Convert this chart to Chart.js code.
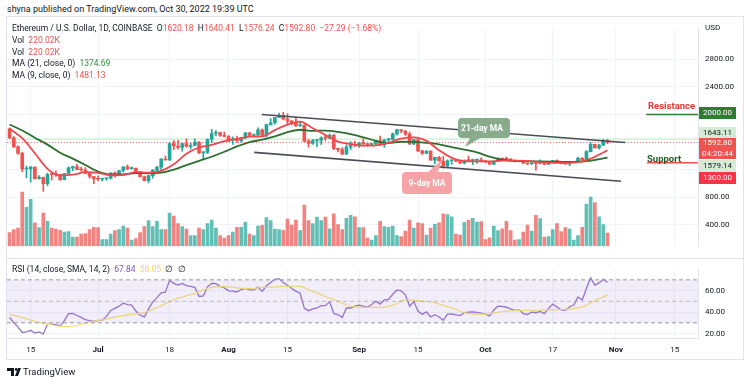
<!DOCTYPE html>
<html>
<head>
<meta charset="utf-8">
<script src="https://cdn.jsdelivr.net/npm/chart.js@4.4.0/dist/chart.umd.min.js"></script>
<style>
  body { margin: 0; width: 750px; height: 385px; background: #fff; position: relative; overflow: hidden;
         font-family: Roboto, "Liberation Sans", sans-serif; color: #131722; }
  .abs { position: absolute; white-space: nowrap; }
  .lg { left: 12px; font-size: 8.5px; line-height: 11.6px; }
  .r { color: #ef5350; }
  .g { color: #388e3c; }
  .pl { position: absolute; left: 699px; width: 37px; text-align: center; font-size: 8px; line-height: 11px; }
</style>
</head>
<body>
<div class="abs" style="left:7px;top:4px;font-size:9px">shyna published on TradingView.com, Oct 30, 2022 19:39 UTC</div>
<div class="abs" style="left:6px;top:16px;width:736px;height:342px;border:1px solid #e0e3eb"></div>
<canvas id="main" width="736" height="241" style="position:absolute;left:7px;top:17px"></canvas>
<div class="abs" style="left:7px;top:258px;width:736px;height:1px;background:#e0e3eb"></div>
<canvas id="rsi" width="736" height="102" style="position:absolute;left:7px;top:258px"></canvas>

<div class="abs lg" style="top:23px">Ethereum / U.S. Dollar, 1D, COINBASE&nbsp; O<span class="r">1620.18</span>&nbsp; H<span class="r">1640.41</span>&nbsp; L<span class="r">1576.24</span>&nbsp; C<span class="r">1592.80</span>&nbsp; <span class="r">−27.29 (−1.68%)</span></div>
<div class="abs lg" style="top:35px">Vol&nbsp; <span class="r">220.02K</span></div>
<div class="abs lg" style="top:47px">Vol&nbsp; <span class="r">220.02K</span></div>
<div class="abs lg" style="top:58px">MA (21, close, 0)&nbsp; <span class="g">1374.69</span></div>
<div class="abs lg" style="top:70px">MA (9, close, 0)&nbsp; <span class="r">1481.13</span></div>
<div class="abs lg" style="top:264px">RSI (14, close, SMA, 14, 2)&nbsp; <span style="color:#7e57c2">67.84</span>&nbsp; <span style="color:#f2d64b">56.05</span>&nbsp; ∅&nbsp; ∅</div>

<div class="abs" style="left:705px;top:23px;font-size:8px">USD</div>
<div class="abs" style="left:648px;top:100px;font-size:9.5px;font-weight:bold;color:#e53935">Resistance</div>
<div class="abs" style="left:647px;top:153px;font-size:9.5px;font-weight:bold;color:#1b5e20">Support</div>

<div class="pl" style="top:107px;height:12px;line-height:12px;background:#2e7d32;color:#fff">2000.00</div>
<div class="pl" style="top:127px;height:11px;background:#d4ecd5">1643.11</div>
<div class="pl" style="top:138px;height:21px;line-height:10.5px;background:#ef5350;color:#fff">1592.80<br>04:20:44</div>
<div class="pl" style="top:160px;height:12px;line-height:12px;background:#d4ecd5">1579.14</div>
<div class="pl" style="top:172px;height:12px;line-height:12px;background:#f23645;color:#fff">1300.00</div>

<svg class="abs" style="left:0;top:0" width="750" height="385">
  <path d="M458,118 h48 a4,4 0 0 1 4,4 v12 a4,4 0 0 1 -4,4 h-26 l-15,9 l5,-9 h-8 a4,4 0 0 1 -4,-4 v-12 a4,4 0 0 1 4,-4z" fill="#88ab8c"/>
  <text x="482" y="131" text-anchor="middle" font-size="8.5" font-weight="bold" fill="#fff" font-family="Roboto">21-day MA</text>
  <path d="M406,172 h22 l14,-12 l-4,12 h10 a4,4 0 0 1 4,4 v14 a4,4 0 0 1 -4,4 h-42 a4,4 0 0 1 -4,-4 v-14 a4,4 0 0 1 4,-4z" fill="#f5a3a6"/>
  <text x="427" y="186" text-anchor="middle" font-size="8.5" font-weight="bold" fill="#fff" font-family="Roboto">9-day MA</text>
  <g transform="translate(7,367)">
    <path d="M0,1 h7 v8 h-3 v-5 h-4z M8,9 l3,-8 h3 l-3,8z" fill="#131722"/>
    <circle cx="9.2" cy="2.5" r="1.4" fill="#131722"/>
  </g>
</svg>
<div class="abs" style="left:23px;top:366px;font-size:9.5px">TradingView</div>

<script>
// ETH/USD daily, Jun 10 - Oct 30 2022 (day 0 = Jun 10)
const opens = [1790,1662,1530,1435,1207,1208,1236,1067,1087,995,1127,1126,1125,1051,1142,1225,1243,1198,1193,1144,1098,
  1068,1059,1066,1074,1150,1134,1186,1238,1213,1218,1168,1097,1038,1112,1191,1233,1353,1338,1577,1542,1520,1577,1535,1549,1597,1442,1449,1636,1724,1738,1697,
  1680,1632,1634,1619,1661,1735,1694,1699,1776,1700,1852,1880,1957,1984,1935,1904,1876,1835,1847,1613,1578,1621,1626,1662,1657,1696,1507,1490,1424,1525,1554,
  1553,1585,1577,1556,1577,1617,1560,1630,1635,1719,1776,1760,1714,1572,1635,1472,1433,1469,1336,1378,1324,1253,1328,1329,1316,1294,1334,1330,1337,1337,
  1327,1311,1276,1324,1362,1352,1351,1331,1316,1322,1292,1280,1295,1287,1297,1275,1306,1331,1309,1284,1283,1299,1314,1363,1345,1461,1565,1514,1555,1620.18];
const highs = [1805,1680,1545,1450,1250,1245,1240,1112,1090,1150,1160,1180,1130,1145,1240,1250,1280,1235,1230,1150,1100,
  1110,1075,1080,1155,1165,1190,1240,1270,1240,1225,1170,1105,1115,1200,1245,1360,1395,1590,1620,1625,1585,1645,1585,1645,1605,1460,1645,1785,1765,1745,1745,
  1695,1675,1685,1665,1740,1740,1720,1805,1790,1860,1940,1960,2020,2030,2010,1915,1960,1885,1850,1640,1640,1630,1675,1705,1720,1710,1510,1520,1560,1605,1615,
  1595,1645,1580,1580,1625,1685,1640,1655,1730,1785,1780,1765,1745,1640,1650,1480,1475,1470,1380,1390,1390,1340,1340,1345,1325,1340,1395,1350,1345,1370,
  1330,1320,1325,1370,1365,1380,1360,1340,1325,1330,1295,1300,1300,1340,1300,1310,1335,1340,1315,1310,1305,1320,1380,1375,1475,1590,1570,1565,1640,1640.41];
const lows = [1650,1520,1420,1170,1080,1015,1060,1060,880,965,1050,1100,1040,1050,1130,1185,1195,1175,1140,1075,995,
  1035,1030,1040,1060,1090,1120,1160,1195,1205,1150,1090,1035,1005,1075,1175,1190,1335,1330,1490,1495,1465,1525,1500,1545,1430,1356,1430,1590,1690,1680,1675,
  1605,1565,1595,1595,1650,1685,1680,1695,1690,1670,1845,1860,1955,1920,1860,1850,1825,1825,1600,1525,1565,1530,1565,1620,1650,1490,1455,1420,1420,1490,1530,
  1520,1555,1540,1545,1555,1550,1520,1605,1630,1700,1735,1695,1560,1560,1460,1420,1430,1335,1280,1320,1220,1245,1275,1315,1285,1280,1310,1270,1290,1310,
  1305,1270,1270,1320,1330,1345,1320,1310,1310,1290,1270,1275,1190,1280,1270,1275,1300,1300,1280,1275,1255,1295,1305,1335,1340,1455,1510,1495,1550,1576.24];
const closes = [1662,1530,1435,1207,1208,1236,1067,1087,995,1127,1126,1125,1051,1142,1225,1243,1198,1193,1144,1098,1068,
  1059,1066,1074,1150,1134,1186,1238,1213,1218,1168,1097,1038,1112,1191,1233,1353,1338,1577,1542,1520,1577,1535,1549,1597,1442,1449,1636,1724,1738,1697,1680,
  1632,1634,1619,1661,1735,1694,1699,1776,1700,1852,1880,1957,1984,1935,1904,1876,1835,1847,1613,1578,1621,1626,1662,1657,1696,1507,1490,1424,1525,1554,1553,
  1585,1577,1556,1577,1617,1560,1630,1635,1719,1776,1760,1714,1572,1635,1472,1433,1469,1336,1378,1324,1253,1328,1329,1316,1294,1334,1330,1337,1337,1327,
  1311,1276,1324,1362,1352,1351,1331,1316,1322,1292,1280,1295,1287,1297,1275,1306,1331,1309,1284,1283,1299,1314,1363,1345,1461,1565,1514,1555,1620,1592.8];
// volume in thousands
const volumes = [225,275,300,900,645,780,390,310,550,415,300,285,265,235,245,150,150,200,210,275,
  315,310,110,110,200,260,275,335,300,100,125,225,325,425,325,415,275,275,550,500,
  375,325,285,175,175,300,275,375,435,300,175,135,175,235,315,315,400,200,175,335,
  345,475,425,285,275,265,450,350,435,260,685,425,375,485,425,485,290,540,360,275,
  465,515,490,310,310,135,100,175,415,325,315,335,175,160,250,435,300,390,375,185,
  300,365,390,540,525,490,200,185,395,435,465,400,410,110,140,335,260,290,415,260,
  100,110,235,350,250,515,460,150,160,275,375,245,310,285,100,175,315,700,815,725,490,360,220.02];

const maDays = [0,3,6,9,12,15,18,21,24,27,30,33,36,39,42,45,48,51,54,57,60,63,66,69,72,75,78,81,84,87,90,93,96,99,102,105,108,111,114,117,120,123,126,129,132,135,138,141,142];
const ma9 = [1793,1655,1436,1210,1114,1125,1161,1152,1117,1119,1161,1156,1180,1276,1430,1520,1559,1612,1645,1677,1683,1773,1854,1897,1799,1702,1606,1571,1546,1552,1588,1648,1667,1617,1481,1369,1321,1318,1318,1328,1328,1326,1308,1298,1296,1307,1358,1448,1481.13];
const ma21 = [1854,1768,1663,1562,1444,1358,1266,1170,1128,1130,1149,1146,1154,1198,1265,1327,1386,1458,1536,1599,1633,1683,1742,1778,1763,1766,1747,1715,1669,1618,1583,1604,1603,1588,1566,1527,1489,1450,1386,1344,1326,1319,1318,1316,1310,1313,1329,1362,1374.69];

const rsi = [35,30,26,21,21.5,23,20.5,21.5,19.5,28.8, 28.5,28.5,27,32,38.5,38.8,36.8,35,33,32,
  31.5,32,32.5,36,41.5,43.5,45.5,48.3,47,46.5, 41,37,35.5,43,49.5,53.5,58,58.5,69.5,66.8,
  65.2,66.7,64.6,64,63,54.5,55,63.5,66.7,66.5, 64,62.5,59.8,59.5,58.7,61,62,60.6,60.6,63.2,
  59.3,64.5,67.5,70.5,71.2,67.5,65,62,59.5,57.5, 43.4,41.3,43,43.8,46,46,49.5,38.6,37.6,35,
  43.9,43.8,45.5,46.5,45.5,44.7,47,50,47.4,51.3, 51.9,56.6,60.6,59.8,56,45.5,50,40.7,38.1,40.2,
  35.4,37.6,35.4,32.3,38.1,38.2,37.5,36.8,39.4,40, 40.2,39.8,39,38,36.3,42,45.5,45.3,44.5,43,
  41.6,42.1,38.6,37.8,40,39.4,40.7,38.6,43.4,47.4, 44.7,42.1,41.6,45,46.6,54,51.3,61.9,71.9,65.1,
  67.2,70.6,67.84];
const rsiSmaDays = [0,2,5,7,10,12,14,16,18,20,22,25,27,29,32,34,36,39,41,44,46,48,51,53,56,58,60,63,65,69,71,73,75,78,80,82,85,88,90,92,93,95,97,99,101,103,106,108,110,113,115,118,120,123,125,127,130,132,134,136,137,139,141,142];
const rsiSma = [37.8,36,32.6,30.2,28,26.7,26.3,27.6,29.8,31.5,32.8,35.2,36.8,38,39.5,42.5,46,51.5,54,57.5,60.6,63,63.8,63,61.9,61.9,63,63.3,64,64,61,57.8,54.5,50.2,46.6,44.8,44.4,44.4,45.3,48,50.5,51.3,50.5,50,48.7,46.3,42.5,39.5,38.2,38,39.2,40.8,41.3,41.6,41.3,42,42.1,42.6,43.3,44.8,46.5,50.8,54,56.05];

// drawings (day index, price)
const upperChannelX = [59.9, 146.2], upperChannelY = [2000, 1593];
const lowerChannelX = [58.1, 145.2], lowerChannelY = [1449, 1030];
const resistanceX = [151.2, 163.5], resistanceY = [2000, 2000];
const supportX = [151.4, 163.5], supportY = [1300, 1300];
const lastPrice = 1592.8, dayHigh = 1643.11;

const dateTicks = [5,21,38,52,66,83,97,113,129,144,158];
const dateLabels = ['15','Jul','18','Aug','15','Sep','15','Oct','17','Nov','15'];
const priceTicks = [400,800,1200,1600,2000,2400,2800];
const shownPrices = [400,800,2400,2800];
const rsiTicks = [20,40,60];
const rsiLevels = [70,50,30];

const xMin = -0.62, xMax = 163.5;
const UP = '#26a69a', DOWN = '#ef5350';
const GRID = '#f0f3fa';

Chart.defaults.font.family = 'Roboto';
Chart.defaults.color = '#131722';

const xy = (xs, ys) => xs.map((x, i) => ({x, y: ys[i]}));
const candleColors = closes.map((c, i) => c >= opens[i] ? UP : DOWN);
const volColors = closes.map((c, i) => c >= opens[i] ? 'rgba(38,166,154,0.72)' : 'rgba(239,83,80,0.72)');
const line = (data, color, width, extra) => Object.assign({
  type: 'line', data, borderColor: color, borderWidth: width, pointRadius: 0, fill: false, order: 0
}, extra || {});

new Chart(document.getElementById('main'), {
  type: 'bar',
  data: {
    datasets: [
      line(xy(maDays, ma9), '#f0474f', 1.8, {cubicInterpolationMode: 'monotone'}),
      line(xy(maDays, ma21), '#2e6f2f', 1.8, {cubicInterpolationMode: 'monotone'}),
      line(xy(upperChannelX, upperChannelY), '#4a4d57', 1.6),
      line(xy(lowerChannelX, lowerChannelY), '#4a4d57', 1.6),
      line(xy(resistanceX, resistanceY), '#2e7d32', 1.5),
      line(xy(supportX, supportY), '#ef5350', 1.5),
      line(xy([xMin, xMax], [dayHigh, dayHigh]), '#c3e3c4', 1, {order: 5}),
      line(xy([xMin, xMax], [lastPrice, lastPrice]), 'rgba(239,110,80,0.85)', 1, {borderDash: [1, 2], order: 5}),
      {
        data: closes.map((c, i) => ({x: i, y: [opens[i], c]})),
        backgroundColor: candleColors, barThickness: 3, minBarLength: 1, grouped: false, order: 1
      },
      {
        data: closes.map((c, i) => ({x: i, y: [lows[i], highs[i]]})),
        backgroundColor: candleColors, barThickness: 1, grouped: false, order: 2
      },
      {
        data: xy(closes.map((c, i) => i), volumes), yAxisID: 'yv',
        backgroundColor: volColors, barThickness: 3, grouped: false, order: 10
      }
    ]
  },
  options: {
    responsive: false, animation: false, devicePixelRatio: 1,
    layout: {padding: 0},
    plugins: {legend: {display: false}, tooltip: {enabled: false}},
    scales: {
      x: {
        type: 'linear', min: xMin, max: xMax, offset: false,
        afterBuildTicks: s => { s.ticks = dateTicks.map(v => ({value: v})); },
        ticks: {display: false}, grid: {color: GRID, drawTicks: false, offset: false}, border: {display: false},
        afterFit: s => { s.height = 0; }
      },
      y: {
        position: 'right', min: 85.2, max: 3245.9,
        afterBuildTicks: s => { s.ticks = priceTicks.map(v => ({value: v})); },
        ticks: {callback: v => shownPrices.includes(v) ? v.toFixed(2) : '', font: {size: 8}, padding: 7},
        grid: {color: GRID, drawTicks: false}, border: {color: '#e0e3eb'},
        afterFit: s => { s.width = 45; }
      },
      yv: {display: false, min: 0, max: 3615}
    }
  }
});

new Chart(document.getElementById('rsi'), {
  type: 'line',
  data: {
    datasets: [
      line(xy([xMin, xMax], [rsiLevels[0], rsiLevels[0]]), '#9598a1', 1, {borderDash: [4, 3]}),
      line(xy([xMin, xMax], [rsiLevels[2], rsiLevels[2]]), '#9598a1', 1,
        {borderDash: [4, 3], fill: '-1', backgroundColor: 'rgba(126,87,194,0.1)'}),
      line(xy([xMin, xMax], [rsiLevels[1], rsiLevels[1]]), 'rgba(149,152,161,0.6)', 1, {borderDash: [4, 3]}),
      line(xy(rsiSmaDays, rsiSma), '#f7e27a', 1.3, {cubicInterpolationMode: 'monotone'}),
      line(xy(closes.map((c, i) => i), rsi), '#9575cd', 1.3)
    ]
  },
  options: {
    responsive: false, animation: false, devicePixelRatio: 1,
    layout: {padding: 0},
    plugins: {legend: {display: false}, tooltip: {enabled: false}},
    scales: {
      x: {
        type: 'linear', min: xMin, max: xMax, offset: false,
        afterBuildTicks: s => { s.ticks = dateTicks.map(v => ({value: v})); },
        ticks: {
          callback: (v, i) => dateLabels[i], padding: 7, maxRotation: 0, autoSkip: false,
          font: ctx => ({size: 8, weight: /[A-Z]/.test(dateLabels[ctx.index] || '') ? 'bold' : 'normal'})
        },
        grid: {color: GRID, drawTicks: false}, border: {color: '#e0e3eb'},
        afterFit: s => { s.height = 22; }
      },
      y: {
        position: 'right', min: 15.87, max: 79.37,
        afterBuildTicks: s => { s.ticks = rsiTicks.map(v => ({value: v})); },
        ticks: {callback: v => v.toFixed(2), font: {size: 8}, padding: 7},
        grid: {color: GRID, drawTicks: false}, border: {color: '#e0e3eb'},
        afterFit: s => { s.width = 45; }
      }
    }
  }
});
</script>
</body>
</html>
